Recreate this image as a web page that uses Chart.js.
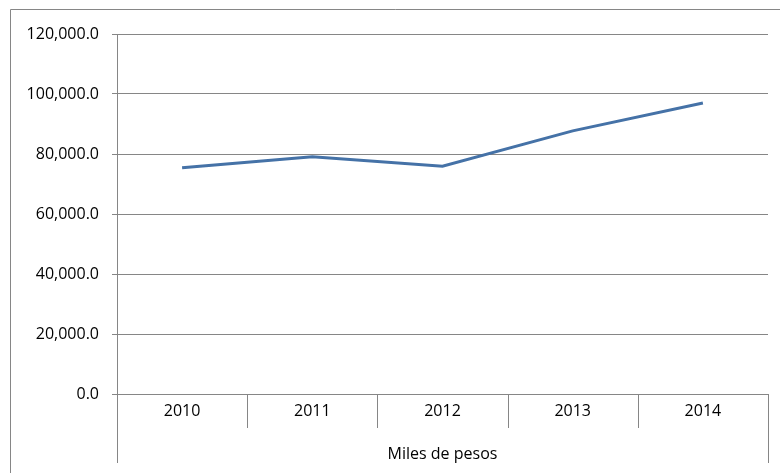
<!DOCTYPE html>
<html>
<head>
<meta charset="utf-8">
<script src="https://cdn.jsdelivr.net/npm/chart.js@4"></script>
<style>
  html, body { margin: 0; padding: 0; background: #fff; }
  #wrap { position: relative; width: 780px; height: 473px; }
</style>
</head>
<body>
<div id="wrap"><canvas id="chart" width="780" height="473"></canvas></div>
<script>
  var years = ['2010', '2011', '2012', '2013', '2014'];
  var values = [75400, 79100, 75900, 87700, 97000];
  var axisTitle = 'Miles de pesos';
  var yMin = 0, yMax = 120000, yStep = 20000;

  var gray = '#868686';
  var fontFamily = '"Open Sans", "Liberation Sans", sans-serif';

  // marco exterior + separadores de categorías estilo Excel
  var excelFrame = {
    id: 'excelFrame',
    afterDraw: function (chart) {
      var ctx = chart.ctx;
      var x = chart.scales.x;
      var bottom = chart.chartArea.bottom;
      ctx.save();
      ctx.strokeStyle = gray;
      ctx.lineWidth = 1;
      ctx.beginPath();
      ctx.moveTo(10.5, 480);
      ctx.lineTo(10.5, 9.5);
      ctx.lineTo(790, 9.5);
      ctx.stroke();
      for (var i = 0; i <= years.length; i++) {
        var px = Math.round(x.getPixelForValue(i - 0.5)) + 0.5;
        var end = (i === 0 || i === years.length) ? bottom + 69 : bottom + 34;
        ctx.beginPath();
        ctx.moveTo(px, bottom);
        ctx.lineTo(px, end);
        ctx.stroke();
      }
      ctx.restore();
    }
  };

  new Chart(document.getElementById('chart'), {
    type: 'line',
    plugins: [excelFrame],
    data: {
      labels: years,
      datasets: [{
        data: values,
        borderColor: '#4572A7',
        borderWidth: 3,
        pointRadius: 0,
        tension: 0
      }]
    },
    options: {
      responsive: false,
      animation: false,
      layout: { padding: { left: 10, top: 34, right: 12, bottom: 0 } },
      plugins: { legend: { display: false }, tooltip: { enabled: false } },
      scales: {
        x: {
          offset: true,
          grid: { display: false, drawTicks: false },
          border: { display: true, color: gray },
          ticks: { color: '#000', padding: 8, font: { family: fontFamily, size: 16 } },
          title: {
            display: true,
            text: axisTitle,
            color: '#000',
            padding: { top: 0, bottom: 9 },
            font: { family: fontFamily, size: 16 }
          },
          afterFit: function (scale) { scale.height = 79; }
        },
        y: {
          min: yMin,
          max: yMax,
          ticks: {
            stepSize: yStep,
            color: '#000',
            padding: 13,
            font: { family: fontFamily, size: 16 },
            callback: function (v) {
              return v.toLocaleString('en-US', { minimumFractionDigits: 1, maximumFractionDigits: 1 });
            }
          },
          grid: { color: gray, tickLength: 5 },
          border: { color: gray },
          afterFit: function (scale) { scale.width = 107; }
        }
      }
    }
  });
</script>
</body>
</html>
